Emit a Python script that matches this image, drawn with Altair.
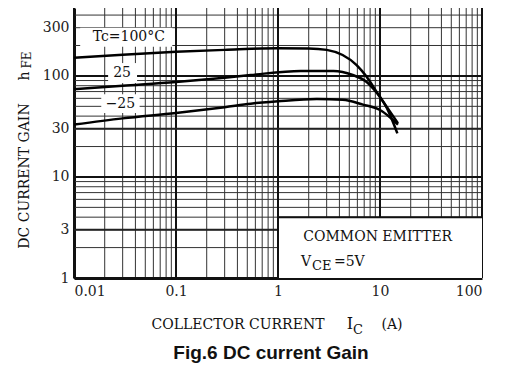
import altair as alt
import pandas as pd

# ---- data ----
curve_x_100 = [0.01, 0.03, 0.1, 0.3, 1, 2, 3, 4.3, 5.9, 7.4, 9.3, 11.7, 14.8]
curve_y_100 = [151, 162, 173, 181, 188, 187, 181, 161, 128, 98, 69, 48, 27]
curve_x_25 = [0.01, 0.03, 0.1, 0.3, 0.54, 1.67, 3.5, 5.4, 7.4, 9.3, 11.7, 15]
curve_y_25 = [74, 80, 87, 96, 102, 112, 112, 102, 87, 68, 49, 34]
curve_x_m25 = [0.01, 0.03, 0.1, 0.3, 0.54, 1, 2.4, 4.3, 6.8, 10, 12.5, 15]
curve_y_m25 = [33, 38, 43, 49, 53, 56, 59, 58, 52, 46, 39, 33]

x_ticks = [0.01, 0.1, 1, 10, 100]
y_ticks = [1, 3, 10, 30, 100, 300]
x_minor = [m * d for d in [0.01, 0.1, 1, 10] for m in range(2, 10)]
y_minor = [m * d for d in [1, 10, 100] for m in range(2, 10) if m * d < 470]

curve_labels = ["Tc=100°C", "25", "−25"]
label_x = [0.0345, 0.0296, 0.0285]
label_y = [243, 107, 53]
box_x = [0.0115, 0.0216, 0.0185]
box_x2 = [0.092, 0.0415, 0.044]
box_y = [194, 85, 43]
box_y2 = [300, 134, 66]

FONT = "DejaVu Serif"
X_DOM = [0.01, 100]
Y_DOM = [1, 470]

xs = alt.Scale(type="log", domain=X_DOM)
ys = alt.Scale(type="log", domain=Y_DOM)

rows = []
for name, cx, cy in [("100", curve_x_100, curve_y_100), ("25", curve_x_25, curve_y_25), ("-25", curve_x_m25, curve_y_m25)]:
    for a, b in zip(cx, cy):
        rows.append({"series": name, "x": a, "y": b})
curves = pd.DataFrame(rows)

gx_minor = pd.DataFrame({"x": x_minor})
gx_major = pd.DataFrame({"x": x_ticks})
gy_minor = pd.DataFrame({"y": y_minor})
gy_major = pd.DataFrame({"y": [1, 10, 100]})
gy_mid = pd.DataFrame({"y": [3, 30]})

vminor = alt.Chart(gx_minor).mark_rule(color="#333333", strokeWidth=1).encode(
    x=alt.X("x:Q", scale=xs, axis=alt.Axis(values=x_ticks, format="~g", title=None, ticks=False,
                                            labelFont=FONT, labelFontSize=14, labelColor="#222",
                                            labelPadding=6, domainColor="#111", domainWidth=3, grid=False)))
vmajor = alt.Chart(gx_major).mark_rule(color="#111111", strokeWidth=2).encode(x=alt.X("x:Q", scale=xs))
hminor = alt.Chart(gy_minor).mark_rule(color="#333333", strokeWidth=1).encode(
    y=alt.Y("y:Q", scale=ys, axis=alt.Axis(values=y_ticks, format="~g", title=None, ticks=False,
                                            labelFont=FONT, labelFontSize=14, labelColor="#222",
                                            labelPadding=5, domainColor="#111", domainWidth=3, grid=False)))
hmajor = alt.Chart(gy_major).mark_rule(color="#111111", strokeWidth=2).encode(y=alt.Y("y:Q", scale=ys))
hmid = alt.Chart(gy_mid).mark_rule(color="#222222", strokeWidth=2).encode(y=alt.Y("y:Q", scale=ys))

boxes = pd.DataFrame({"x": box_x + [1], "x2": box_x2 + [100], "y": box_y + [1], "y2": box_y2 + [4.0]})
box_layer = alt.Chart(boxes).mark_rect(color="white").encode(
    x=alt.X("x:Q", scale=xs), x2="x2:Q", y=alt.Y("y:Q", scale=ys), y2="y2:Q")
box_border = alt.Chart(pd.DataFrame({"x": [1], "x2": [100], "y": [4.0]})).mark_rule(color="#111", strokeWidth=2).encode(
    x=alt.X("x:Q", scale=xs), x2="x2:Q", y=alt.Y("y:Q", scale=ys))
box_left = alt.Chart(pd.DataFrame({"x": [1], "y": [1], "y2": [4.0]})).mark_rule(color="#111", strokeWidth=2).encode(
    x=alt.X("x:Q", scale=xs), y=alt.Y("y:Q", scale=ys), y2="y2:Q")

lines = alt.Chart(curves).mark_line(color="black", strokeWidth=2.5, interpolate="monotone", clip=True).encode(
    x=alt.X("x:Q", scale=xs), y=alt.Y("y:Q", scale=ys), detail="series:N")

labels = pd.DataFrame({"t": curve_labels, "x": label_x, "y": label_y})
label_layer = alt.Chart(labels).mark_text(font=FONT, fontSize=14, color="#111").encode(
    x=alt.X("x:Q", scale=xs), y=alt.Y("y:Q", scale=ys), text="t:N")

ce = alt.Chart(pd.DataFrame({"t": ["COMMON EMITTER"], "x": [9.5], "y": [2.55]})).mark_text(
    font=FONT, fontSize=14, color="#111").encode(x=alt.X("x:Q", scale=xs), y=alt.Y("y:Q", scale=ys), text="t:N")
vce_df = pd.DataFrame({"x": [1.68], "y": [1.44]})
v1 = alt.Chart(vce_df).mark_text(font=FONT, fontSize=14, color="#111", align="left", text="V").encode(
    x=alt.X("x:Q", scale=xs), y=alt.Y("y:Q", scale=ys))
v2 = alt.Chart(vce_df).mark_text(font=FONT, fontSize=13, color="#111", align="left", text="CE", dx=11, dy=4).encode(
    x=alt.X("x:Q", scale=xs), y=alt.Y("y:Q", scale=ys))
v3 = alt.Chart(vce_df).mark_text(font=FONT, fontSize=14, color="#111", align="left", text="=5V", dx=33).encode(
    x=alt.X("x:Q", scale=xs), y=alt.Y("y:Q", scale=ys))

# axis titles and caption
one = pd.DataFrame({"a": [0]})
ytitle = alt.Chart(one).mark_text(font=FONT, fontSize=14, color="#111", angle=270, text="DC CURRENT GAIN").encode(
    x=alt.value(-49), y=alt.value(168))
yh = alt.Chart(one).mark_text(font=FONT, fontSize=14, color="#111", angle=270, text="h").encode(
    x=alt.value(-49), y=alt.value(68))
yfe = alt.Chart(one).mark_text(font=FONT, fontSize=12, color="#111", angle=270, text="FE").encode(
    x=alt.value(-47), y=alt.value(52))
xt1 = alt.Chart(one).mark_text(font=FONT, fontSize=14, color="#111", text="COLLECTOR CURRENT").encode(
    x=alt.value(164), y=alt.value(317))
xt2 = alt.Chart(one).mark_text(font=FONT, fontSize=16, color="#111", text="I").encode(
    x=alt.value(276), y=alt.value(316))
xt3 = alt.Chart(one).mark_text(font=FONT, fontSize=13, color="#111", text="C").encode(
    x=alt.value(284), y=alt.value(322))
xt4 = alt.Chart(one).mark_text(font=FONT, fontSize=14, color="#111", text="(A)").encode(
    x=alt.value(318), y=alt.value(317))
cap = alt.Chart(one).mark_text(font="Liberation Sans", fontSize=19, fontWeight="bold", color="#111",
                               text="Fig.6 DC current Gain").encode(x=alt.value(197), y=alt.value(345))

chart = alt.layer(
    vminor, hminor, vmajor, hmajor, hmid, box_layer, box_border, box_left, lines,
    label_layer, ce, v1, v2, v3, ytitle, yh, yfe, xt1, xt2, xt3, xt4, cap
).properties(
    width=408, height=270,
    autosize=alt.AutoSizeParams(type="none"),
    padding={"left": 66, "top": 0, "right": 21, "bottom": 88},
    background="white",
).configure_view(strokeOpacity=0)

chart.save("out.html", embed_options={"renderer": "svg", "actions": False})
